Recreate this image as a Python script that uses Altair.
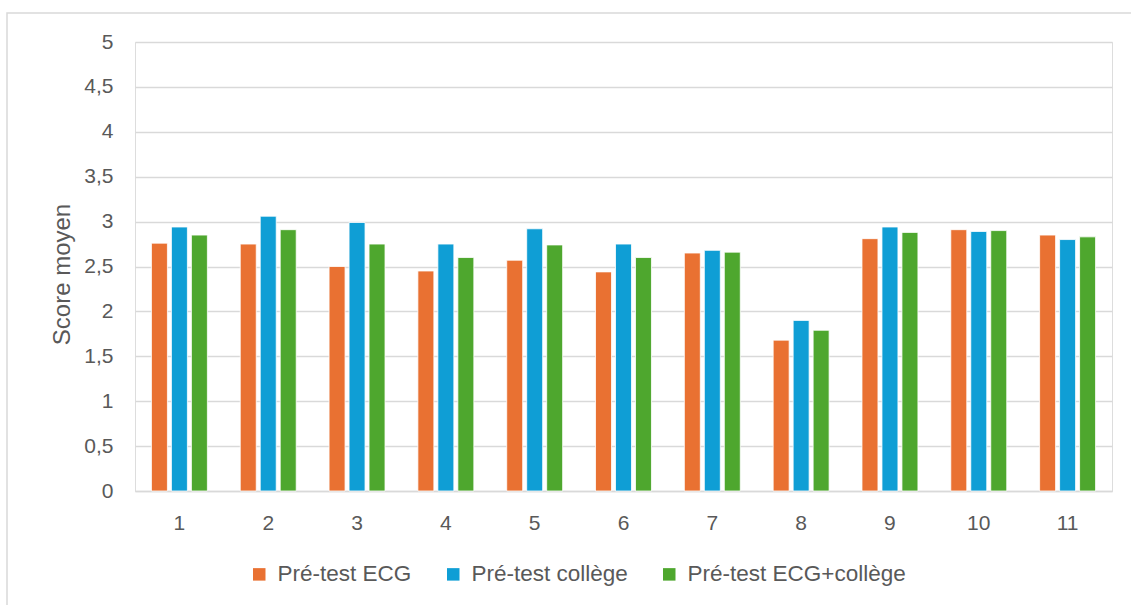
import altair as alt
import pandas as pd

# Mean score per item for each pre-test group
items = ["1", "2", "3", "4", "5", "6", "7", "8", "9", "10", "11"]
series_names = ["Pré-test ECG", "Pré-test collège", "Pré-test ECG+collège"]
pre_ecg = [2.76, 2.75, 2.50, 2.45, 2.57, 2.44, 2.65, 1.68, 2.81, 2.91, 2.85]
pre_college = [2.94, 3.06, 2.99, 2.75, 2.92, 2.75, 2.68, 1.90, 2.94, 2.89, 2.80]
pre_both = [2.85, 2.91, 2.75, 2.60, 2.74, 2.60, 2.66, 1.79, 2.88, 2.90, 2.83]
colors = ["#E97132", "#0F9ED5", "#4EA72E"]

rows = []
for name, values in zip(series_names, [pre_ecg, pre_college, pre_both]):
    for item, v in zip(items, values):
        rows.append({"item": item, "groupe": name, "score": v})
df = pd.DataFrame(rows)

FONT = "Liberation Sans"
TEXT = "#595959"
LINE = "#D9D9D9"

bars = (
    alt.Chart(df)
    .mark_bar(stroke="white", strokeWidth=0.8)
    .encode(
        x=alt.X(
            "item:N",
            sort=items,
            title=None,
            scale=alt.Scale(paddingInner=0.37, paddingOuter=0.185),
            axis=alt.Axis(
                labelAngle=0,
                labelFontSize=21,
                labelColor=TEXT,
                labelFont=FONT,
                labelPadding=21,
                ticks=False,
                domainColor=LINE,
                domainWidth=1.5,
                grid=False,
            ),
        ),
        xOffset=alt.XOffset(
            "groupe:N",
            sort=series_names,
            scale=alt.Scale(paddingInner=0.2, paddingOuter=0),
        ),
        y=alt.Y(
            "score:Q",
            scale=alt.Scale(domain=[0, 5], nice=False),
            axis=alt.Axis(
                values=[0, 0.5, 1, 1.5, 2, 2.5, 3, 3.5, 4, 4.5, 5],
                labelExpr="replace(format(datum.value, '~g'), '.', ',')",
                labelFontSize=21,
                labelColor=TEXT,
                labelFont=FONT,
                labelPadding=22,
                ticks=False,
                domain=False,
                gridColor=LINE,
                gridWidth=1.5,
                title="Score moyen",
                titleFont=FONT,
                titleFontSize=24,
                titleFontWeight="normal",
                titleColor=TEXT,
                titleAngle=-90,
                titleX=-66,
                titleY=232,
                titleAlign="center",
                titleBaseline="alphabetic",
            ),
        ),
        color=alt.Color(
            "groupe:N",
            sort=series_names,
            scale=alt.Scale(domain=series_names, range=colors),
            legend=alt.Legend(
                title=None,
                orient="none",
                direction="horizontal",
                legendX=113,
                legendY=521,
                symbolType="square",
                symbolSize=156,
                symbolStrokeWidth=0,
                labelFontSize=22.5,
                labelFont=FONT,
                labelColor=TEXT,
                labelLimit=0,
                columnPadding=30,
                labelOffset=7,
            ),
        ),
    )
)

# light frame around the whole chart
frame = (
    alt.Chart(pd.DataFrame({"k": [0]}))
    .mark_rect(fill=None, stroke=LINE, strokeWidth=1.5)
    .encode(
        x=alt.value(-128),
        x2=alt.value(1010),
        y=alt.value(-29),
        y2=alt.value(580),
    )
)

chart = (
    alt.layer(frame, bars)
    .properties(width=977, height=449)
    .configure_view(stroke=None)
    .configure(
        background="white",
        autosize=alt.AutoSizeParams(type="none"),
        padding={"left": 135, "top": 42, "right": 19, "bottom": 114},
    )
)

chart.save("out.html", embed_options={"renderer": "svg", "actions": False})
